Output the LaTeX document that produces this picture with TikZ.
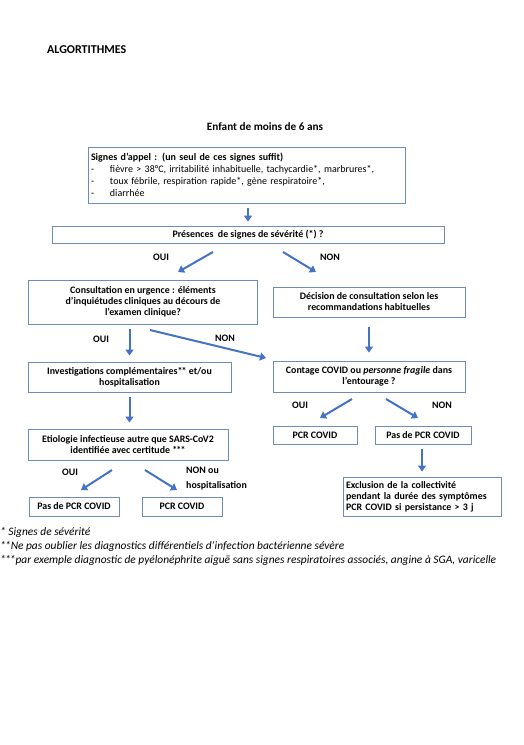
\documentclass[tikz,border=0pt]{standalone}
\usepackage{fontspec}
\setmainfont{Carlito}
\usetikzlibrary{arrows.meta,calc}
\definecolor{boxc}{HTML}{6F8CB8}
\definecolor{arrc}{HTML}{4472C4}
\newcommand{\dstar}{*\kern-0.8pt*}
\newcommand{\tstar}{*\kern-0.8pt*\kern-0.8pt*}
\begin{document}
\begin{tikzpicture}[x=1pt,y=-1pt,
  box/.style={draw=boxc, line width=0.9pt, inner sep=2pt, align=center,
    font=\fontsize{9.9}{11}\selectfont\bfseries},
  arr/.style={draw=arrc, line width=2pt, -{Triangle[length=6pt,width=8pt]}},
  lab/.style={font=\fontsize{9.9}{14.5}\selectfont\bfseries},
  foot/.style={font=\fontsize{11.4}{13}\selectfont\itshape, anchor=base west, inner sep=0pt}]
\useasboundingbox (0,0) rectangle (524,745);

% titles
\node[font=\fontsize{12}{13}\selectfont\bfseries, anchor=west, inner sep=0pt] (t1) at (47,50) {ALGORTITHMES};
\node[font=\fontsize{11.2}{13}\selectfont\bfseries, inner sep=0pt] (t2) at (265,127) {Enfant de moins de 6 ans};

% boxes
\node[box, minimum width=317pt, minimum height=56pt, text width=311pt, align=left, font=\fontsize{10}{12}\selectfont] (b1) at (246.5,175)
 {\textbf{Signes d’appel : (un seul de ces signes suffit)}\\
  \makebox[19pt][l]{-}fièvre > 38°C, irritabilité inhabituelle, tachycardie*, marbrures*,\\
  \makebox[19pt][l]{-}toux fébrile, respiration rapide*, gène respiratoire*,\\
  \makebox[19pt][l]{-}diarrhée};
\node[box, minimum width=392pt, minimum height=17pt] (b2) at (248,234.5) {Présences\ \ de signes de sévérité (*) ?};
\node[box, minimum width=229pt, minimum height=44pt] (b3) at (143,302)
 {Consultation en urgence : éléments\\d’inquiétudes cliniques au décours de\\l’examen clinique?};
\node[box, minimum width=192pt, minimum height=30pt] (b4) at (369,302)
 {Décision de consultation selon les\\recommandations habituelles};
\node[box, minimum width=203pt, minimum height=30pt] (b5) at (129.5,377)
 {Investigations complémentaires\dstar{} et/ou\\hospitalisation};
\node[box, minimum width=192pt, minimum height=31pt] (b6) at (369,376.5)
 {Contage COVID ou \textit{personne fragile} dans\\l’entourage ?};
\node[box, minimum width=200pt, minimum height=31pt] (b7) at (128,444.5)
 {Etiologie infectieuse autre que SARS-CoV2\\identifiée avec certitude \tstar};
\node[box, minimum width=84pt, minimum height=18pt] (pcrr) at (315,435) {PCR COVID};
\node[box, minimum width=96pt, minimum height=18pt] (pasr) at (423,435) {Pas de PCR COVID};
\node[box, minimum width=158pt, minimum height=39pt, text width=152pt, align=left] (excl) at (422,496.5)
 {Exclusion de la collectivité\\pendant la durée des symptômes\\PCR COVID si persistance > 3 j};
\node[box, minimum width=90pt, minimum height=19pt] (pasl) at (74,506.5) {Pas de PCR COVID};
\node[box, minimum width=80pt, minimum height=19pt] (pcrl) at (182,506.5) {PCR COVID};

% arrow end points
\coordinate (c1s) at (213,252); \coordinate (c1e) at (178,272);
\coordinate (c2s) at (283,252); \coordinate (c2e) at (316,272);
\coordinate (c3s) at (150,330); \coordinate (c3e) at (266,358);
\coordinate (c4s) at (352,399); \coordinate (c4e) at (320,418);
\coordinate (c5s) at (386,399); \coordinate (c5e) at (418,418);
\coordinate (c6s) at (112,470); \coordinate (c6e) at (81,490);
\coordinate (c7s) at (145,470); \coordinate (c7e) at (177,490);

% arrows
\draw[arr, shorten <=5pt, shorten >=4pt] (b2.north |- b1.south) -- (b2.north);
\draw[arr] (c1s) -- (c1e);
\draw[arr] (c2s) -- (c2e);
\draw[arr, shorten <=5pt, shorten >=6pt] (b5.north |- b3.south) -- (b5.north);
\draw[arr] (c3s) -- (c3e);
\draw[arr, shorten <=10pt, shorten >=8pt] (b6.north |- b4.south) -- (b6.north);
\draw[arr, shorten <=5pt, shorten >=6pt] (b5.south) -- (b5.south |- b7.north);
\draw[arr] (c4s) -- (c4e);
\draw[arr] (c5s) -- (c5e);
\draw[arr, shorten <=5pt, shorten >=5pt] (excl.north |- pasr.south) -- (excl.north);
\draw[arr] (c6s) -- (c6e);
\draw[arr] (c7s) -- (c7e);

% labels
\node[lab] (l1) at (161,257) {OUI};
\node[lab] (l2) at (330,257) {NON};
\node[lab] (l3) at (101,339) {OUI};
\node[lab] (l4) at (225,338) {NON};
\node[lab] (l5) at (300,405) {OUI};
\node[lab] (l6) at (442,405) {NON};
\node[lab] (l7) at (70,472) {OUI};
\node[lab, align=left, anchor=west, inner sep=0pt] (l8) at (186,478.5) {NON ou\\hospitalisation};

% footnotes
\node[foot] (f1) at (0,535) {* Signes de sévérité};
\node[foot] (f2) at (0,549) {\dstar Ne pas oublier les diagnostics différentiels d’infection bactérienne sévère};
\node[foot] (f3) at (0,563) {\tstar par exemple diagnostic de pyélonéphrite aiguë sans signes respiratoires associés, angine à SGA, varicelle};
\end{tikzpicture}
\end{document}
